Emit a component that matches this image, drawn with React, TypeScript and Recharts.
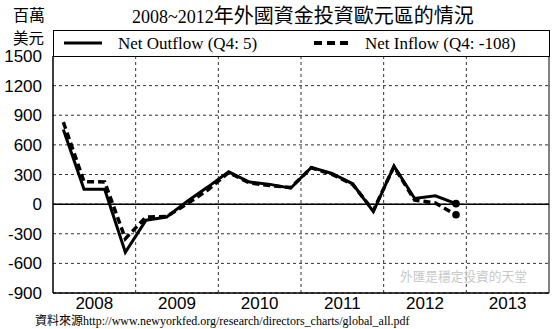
import React from 'react';
import {
  LineChart,
  Line,
  XAxis,
  YAxis,
  CartesianGrid,
  ReferenceLine,
  ReferenceArea,
} from 'recharts';

// ---- data ----
const quarters = [
  '2008Q1', '2008Q2', '2008Q3', '2008Q4',
  '2009Q1', '2009Q2', '2009Q3', '2009Q4',
  '2010Q1', '2010Q2', '2010Q3', '2010Q4',
  '2011Q1', '2011Q2', '2011Q3', '2011Q4',
  '2012Q1', '2012Q2', '2012Q3', '2012Q4',
];
const netOutflow = [755, 150, 150, -487, -163, -130, 30, 175, 327, 223, 200, 161, 372, 310, 206, -76, 384, 57, 85, 5];
const netInflow = [830, 228, 225, -350, -130, -125, 5, 145, 320, 215, 188, 168, 368, 302, 200, -65, 380, 40, 12, -108];

const yTicks = [-900, -600, -300, 0, 300, 600, 900, 1200, 1500];
const yearLabels = ['2008', '2009', '2010', '2011', '2012', '2013'];
const yearBoundaries = [2009, 2010, 2011, 2012, 2013];

const titleLatin = '2008~2012';
const titleCJK = '年外國資金投資歐元區的情況';
const unitTop = '百萬';
const unitBottom = '美元';
const legendOutflow = 'Net Outflow (Q4: 5)';
const legendInflow = 'Net Inflow (Q4: -108)';
const watermark = '外匯是穩定投資的天堂';
const sourceLabel = '資料來源';
const sourceUrl = 'http://www.newyorkfed.org/research/directors_charts/global_all.pdf';

const yearTickPositions = yearLabels.map((y) => Number(y) + 0.5);

const tableData = quarters.map((q, i) => ({
  t: Number(q.slice(0, 4)) + (Number(q.slice(5)) - 0.5) / 4,
  q,
  outflow: netOutflow[i],
  inflow: netInflow[i],
}));

const lastIndex = quarters.length - 1;

const endDot = (props: any) => {
  const { cx, cy, index } = props;
  if (index === lastIndex) {
    return <circle key={`dot-${index}`} cx={cx} cy={cy} r={3.8} fill="#000" stroke="none" />;
  }
  return <g key={`dot-${index}`} />;
};

const sans = '"Liberation Sans", Arial, sans-serif';
const serif = '"Liberation Serif", "Noto Sans CJK TC", serif';
const cjk = '"Noto Sans CJK TC", sans-serif';

export default function App() {
  return (
    <div style={{ position: 'absolute', left: 0, top: 0, width: 554, height: 329, background: '#fff', overflow: 'hidden' }}>
      <LineChart
        width={554}
        height={329}
        data={tableData}
        margin={{ top: 56, right: 5, bottom: 0, left: 0 }}
      >
        <CartesianGrid vertical={false} stroke="#333" strokeDasharray="3 3" />
        <XAxis
          type="number"
          dataKey="t"
          domain={[2008, 2014]}
          ticks={yearTickPositions}
          interval={0}
          tickFormatter={(v: number) => String(Math.floor(v))}
          axisLine={{ stroke: '#000' }}
          tickLine={false}
          tickSize={4}
          tickMargin={0}
          height={36}
          tick={{ fontSize: 17, fill: '#000', fontFamily: sans }}
        />
        <YAxis
          type="number"
          domain={[-900, 1500]}
          ticks={yTicks}
          interval={0}
          width={53}
          axisLine={{ stroke: '#000' }}
          tickLine={false}
          tickSize={6}
          tickMargin={5}
          tick={{ fontSize: 17, fill: '#000', fontFamily: sans }}
        />
        {yearBoundaries.map((b) => (
          <ReferenceLine key={b} x={b} stroke="#333" strokeDasharray="3 3" />
        ))}
        <ReferenceLine y={0} stroke="#000" strokeWidth={1.5} />
        <ReferenceArea x1={2008} x2={2014} y1={-900} y2={1500} fill="none" stroke="#000" strokeWidth={1} />
        <Line
          type="linear"
          dataKey="inflow"
          stroke="#000"
          strokeWidth={3.5}
          strokeDasharray="7 4"
          dot={endDot}
          activeDot={false}
          isAnimationActive={false}
        />
        <Line
          type="linear"
          dataKey="outflow"
          stroke="#000"
          strokeWidth={3}
          dot={endDot}
          activeDot={false}
          isAnimationActive={false}
        />
      </LineChart>

      {/* title */}
      <div style={{ position: 'absolute', left: 132, top: 5, whiteSpace: 'nowrap', lineHeight: '20px', color: '#000' }}>
        <span style={{ fontFamily: serif, fontSize: 18 }}>{titleLatin}</span>
        <span style={{ fontFamily: cjk, fontSize: 20 }}>{titleCJK}</span>
      </div>

      {/* unit */}
      <div style={{ position: 'absolute', left: 13, top: 6, fontFamily: cjk, fontSize: 16, lineHeight: '16px', color: '#000' }}>{unitTop}</div>
      <div style={{ position: 'absolute', left: 13, top: 29, fontFamily: cjk, fontSize: 15.5, lineHeight: '16px', color: '#000' }}>{unitBottom}</div>

      {/* legend */}
      <div style={{ position: 'absolute', left: 53, top: 30, width: 497, height: 27, boxSizing: 'border-box', border: '1px solid #000', background: '#fff' }}>
        <svg width={497} height={27} style={{ position: 'absolute', left: -1, top: -1 }}>
          <line x1={11} x2={49} y1={13} y2={13} stroke="#000" strokeWidth={3} />
          <line x1={261} x2={296} y1={13} y2={13} stroke="#000" strokeWidth={4} strokeDasharray="8 5" />
        </svg>
        <div style={{ position: 'absolute', left: 64, top: 3, fontFamily: serif, fontSize: 17, lineHeight: '20px', whiteSpace: 'nowrap' }}>{legendOutflow}</div>
        <div style={{ position: 'absolute', left: 311, top: 3, fontFamily: serif, fontSize: 17, lineHeight: '20px', whiteSpace: 'nowrap' }}>{legendInflow}</div>
      </div>

      {/* watermark */}
      <div style={{ position: 'absolute', left: 400, top: 268, fontFamily: cjk, fontSize: 12.7, lineHeight: '16px', color: '#c8c8c8', whiteSpace: 'nowrap' }}>{watermark}</div>

      {/* source */}
      <div style={{ position: 'absolute', left: 35, top: 313, whiteSpace: 'nowrap', lineHeight: '14px', color: '#000' }}>
        <span style={{ fontFamily: cjk, fontSize: 12 }}>{sourceLabel}</span>
        <span style={{ fontFamily: serif, fontSize: 12 }}>{sourceUrl}</span>
      </div>
    </div>
  );
}
